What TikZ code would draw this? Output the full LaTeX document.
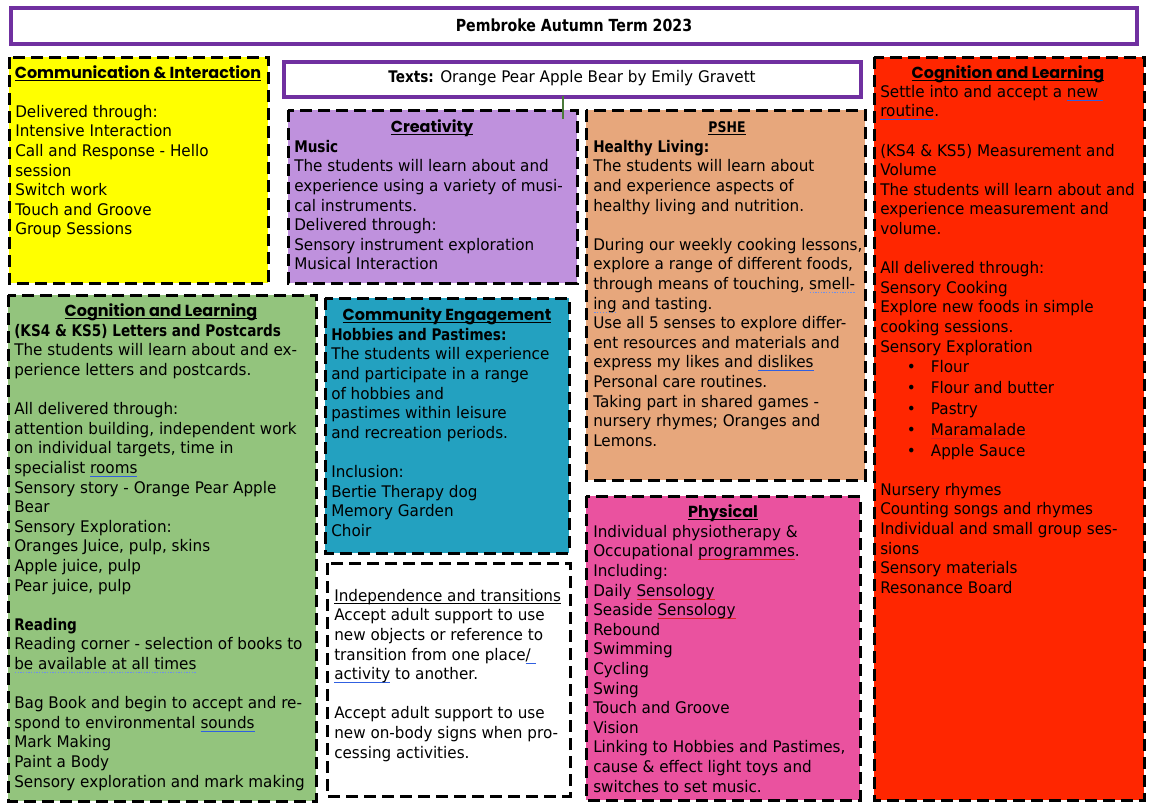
\documentclass[tikz,border=0pt]{standalone}
\usepackage{fontspec}
\setmainfont{DejaVu Sans}[FakeStretch=0.95, BoldFeatures={FakeStretch=0.85}]
\newfontfamily\headfam{Poppins}
\definecolor{cpurple}{HTML}{7030A0}
\definecolor{cyellow}{HTML}{FFFF00}
\definecolor{clav}{HTML}{BF91DD}
\definecolor{ctan}{HTML}{E7A77C}
\definecolor{cred}{HTML}{FF2600}
\definecolor{cgreen}{HTML}{93C47D}
\definecolor{cteal}{HTML}{23A1C0}
\definecolor{cpink}{HTML}{EA529F}
\definecolor{gblue}{HTML}{3060E0}
\definecolor{wred}{HTML}{E02020}
\definecolor{lgreen}{HTML}{4A7A3A}
\newsavebox\ulbox
\newcommand\ulc[3]{\sbox\ulbox{#3}\rlap{\color{#1}\rule[-#2]{\wd\ulbox}{0.7pt}}\usebox\ulbox}
\newcommand\hul[1]{\ulc{black}{1.9pt}{#1}}
\newcommand\bul[1]{\ulc{gblue}{2.6pt}{#1}}
\newcommand\rul[1]{\ulc{wred}{2.6pt}{#1}}
\newcommand\dul[1]{\sbox\ulbox{#1}\rlap{\color{gblue!70}\hbox to \wd\ulbox{\xleaders\hbox to 2pt{\hss\rule[-2.6pt]{1pt}{0.6pt}\hss}\hfill}}\usebox\ulbox}
\newcommand\bodyf{\fontsize{12}{14.7}\selectfont}
\newcommand\headf{\headfam\bfseries\fontsize{12}{14.7}\selectfont}
\newcommand\blank{\mbox{}}
\newcommand\bt{\hspace*{20pt}\makebox[18pt][l]{•}}
\begin{document}
\begin{tikzpicture}[x=0.75pt,y=-0.75pt,
  dbox/.style={draw=black, line width=2.25pt, dash pattern=on 9pt off 4.5pt},
  pbox/.style={draw=cpurple, line width=3.2pt, fill=white},
  body/.style={anchor=north west, inner sep=0pt, align=left, font=\bodyf},
  head/.style={inner sep=0pt, font=\headf}]
\useasboundingbox[fill=white] (0,0) rectangle (1154,811);
% title
\draw[pbox] (11,8) rectangle (1137,44);
\node[inner sep=0pt, font=\fontsize{12.5}{14.7}\selectfont\bfseries] (title) at (574,25) {Pembroke Autumn Term 2023};
% boxes
\draw[dbox, fill=cyellow] (9,57) rectangle (268,283);
\draw[dbox, fill=clav] (288,110) rectangle (577,283);
\draw[dbox, fill=ctan] (586,110) rectangle (865,480);
\draw[dbox, fill=cred] (874,57) rectangle (1144,800);
\draw[dbox, fill=cgreen] (8,295) rectangle (316,801);
\draw[dbox, fill=cteal] (325,298) rectangle (569,553);
\draw[dbox, fill=white] (327,563) rectangle (570,796);
\draw[dbox, fill=cpink] (586,496) rectangle (860,800);
% texts box
\draw[pbox] (284,62) rectangle (861,97);
\node[inner sep=0pt, font=\bodyf] (texts) at (572,78) {\textbf{Texts:} Orange Pear Apple Bear by Emily Gravett};
\coordinate (lt) at (563,96);
\coordinate (lb) at (563,119);
\draw[lgreen, line width=0.8pt] (lt) -- (lb);
% communication
\node[head] (h1) at (138,73) {\hul{Communication \& Interaction}};
\node[body] (b1) at (15,103.3) {\strut Delivered through:\\Intensive Interaction\\Call and Response - Hello\\session\\Switch work\\Touch and Groove\\Group Sessions};
% creativity
\node[head] (h2) at (432,128) {\hul{Creativity}};
\node[body] (b2) at (294,138.3) {\strut\textbf{Music}\\The students will learn about and\\experience using a variety of musi-\\cal instruments.\\Delivered through:\\Sensory instrument exploration\\Musical Interaction};
% PSHE
\node[inner sep=0pt, font=\fontsize{11}{14.7}\selectfont\bfseries] (h3) at (727,128) {\hul{PSHE}};
\node[body] (b3) at (593,138.3) {\strut\textbf{Healthy Living:}\\The students will learn about\\and experience aspects of\\healthy living and nutrition.\\\blank\\During our weekly cooking lessons,\\explore a range of different foods,\\through means of touching, \dul{smell-}\\\dul{ing} and tasting.\\Use all 5 senses to explore differ-\\ent resources and materials and\\express my likes and \bul{dislikes}\\Personal care routines.\\Taking part in shared games -\\nursery rhymes; Oranges and\\Lemons.};
% red cognition
\node[head] (h4) at (1008,74) {\hul{Cognition and Learning}};
\node[body] (b4) at (880,83.3) {\strut Settle into and accept a \bul{new\ }\\\bul{routine}.\\\blank\\(KS4 \& KS5) Measurement and\\Volume\\The students will learn about and\\experience measurement and\\volume.\\\blank\\All delivered through:\\Sensory Cooking\\Explore new foods in simple\\cooking sessions.\\Sensory Exploration\\[0.9pt]\bt Flour\\[0.9pt]\bt Flour and butter\\[0.9pt]\bt Pastry\\[0.9pt]\bt\rul{Maramalade}\\[0.9pt]\bt Apple Sauce\\\blank\\Nursery rhymes\\Counting songs and rhymes\\Individual and small group ses-\\sions\\Sensory materials\\Resonance Board};
% green cognition
\node[head] (h5) at (161,312) {\hul{Cognition and Learning}};
\node[body] (b5) at (14,322.3) {\strut\textbf{(KS4 \& KS5) Letters and Postcards}\\The students will learn about and ex-\\perience letters and postcards.\\\blank\\All delivered through:\\attention building, independent work\\on individual targets, time in\\specialist \bul{rooms}\\Sensory story - Orange Pear Apple\\Bear\\Sensory Exploration:\\Oranges Juice, pulp, skins\\Apple juice, pulp\\Pear juice, pulp\\\blank\\\textbf{Reading}\\Reading corner - selection of books to\\\dul{be available at all times}\\\blank\\Bag Book and begin to accept and re-\\spond to environmental \bul{sounds}\\Mark Making\\Paint a Body\\Sensory exploration and mark making};
% community
\node[head] (h6) at (447,316) {\hul{Community Engagement}};
\node[body] (b6) at (331,326.3) {\strut\textbf{Hobbies and Pastimes:}\\The students will experience\\and participate in a range\\of hobbies and\\pastimes within leisure\\and recreation periods.\\\blank\\Inclusion:\\Bertie Therapy dog\\Memory Garden\\Choir};
% independence
\node[body] (b7) at (334,587.3) {\strut\hul{Independence and transitions}\\Accept adult support to use\\new objects or reference to\\transition from one place\bul{/\ }\\\bul{activity} to another.\\\blank\\Accept adult support to use\\new on-body signs when pro-\\cessing activities.};
% physical
\node[head] (h8) at (723,513) {\hul{Physical}};
\node[body] (b8) at (593,523.3) {\strut Individual physiotherapy \&\\Occupational \rul{programmes}.\\Including:\\Daily \rul{Sensology}\\Seaside \rul{Sensology}\\Rebound\\Swimming\\Cycling\\Swing\\Touch and Groove\\Vision\\Linking to Hobbies and Pastimes,\\cause \& effect light toys and\\switches to set music.};
\end{tikzpicture}
\end{document}
